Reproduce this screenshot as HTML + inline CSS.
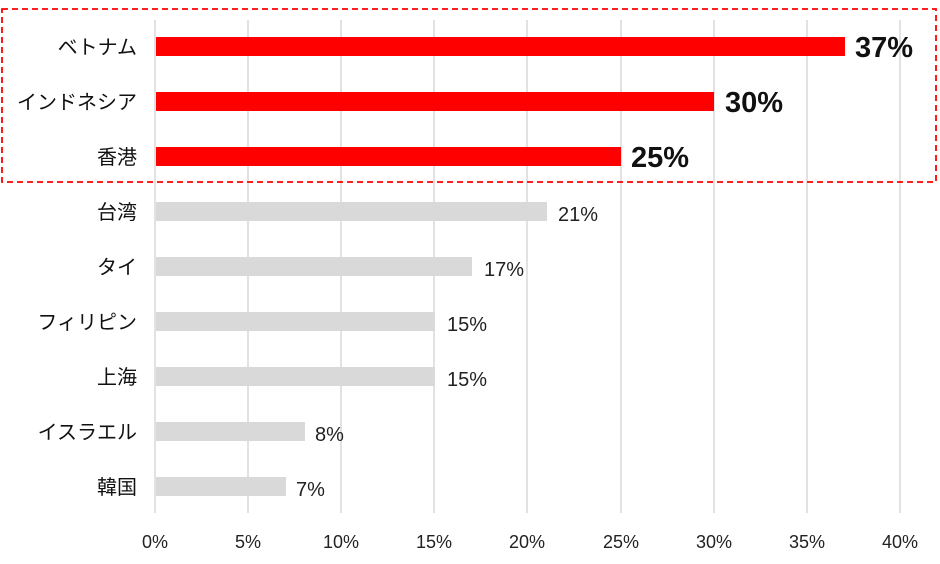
<!DOCTYPE html>
<html><head><meta charset="utf-8"><style>
html,body{margin:0;padding:0;background:#fff;width:940px;height:564px;overflow:hidden}
svg{display:block}
.lab{font-family:"Liberation Sans","Noto Sans CJK JP",sans-serif;font-size:20px;fill:#111}
.tk{font-family:"Liberation Sans",sans-serif;font-size:18px;fill:#222}
.v{font-family:"Liberation Sans",sans-serif;font-size:20px;fill:#222}
.vb{font-family:"Liberation Sans",sans-serif;font-size:29px;font-weight:bold;fill:#111}
</style></head><body>
<svg width="940" height="564" xmlns="http://www.w3.org/2000/svg">
<g stroke="#d9d9d9" stroke-width="1.5">
<line x1="155" y1="20" x2="155" y2="513"/><line x1="248" y1="20" x2="248" y2="513"/>
<line x1="341" y1="20" x2="341" y2="513"/><line x1="434" y1="20" x2="434" y2="513"/>
<line x1="527" y1="20" x2="527" y2="513"/><line x1="621" y1="20" x2="621" y2="513"/>
<line x1="714" y1="20" x2="714" y2="513"/><line x1="807" y1="20" x2="807" y2="513"/>
<line x1="900" y1="20" x2="900" y2="513"/>
</g>
<g fill="#ff0000">
<rect x="156" y="37" width="689" height="19"/>
<rect x="156" y="92" width="558" height="19"/>
<rect x="156" y="147" width="465" height="19"/>
</g>
<g fill="#d9d9d9">
<rect x="156" y="202" width="391" height="19"/>
<rect x="156" y="257" width="316" height="19"/>
<rect x="156" y="312" width="279" height="19"/>
<rect x="156" y="367" width="279" height="19"/>
<rect x="156" y="422" width="149" height="19"/>
<rect x="156" y="477" width="130" height="19"/>
</g>
<rect x="2" y="9" width="934" height="173" fill="none" stroke="#ff0000" stroke-width="1.8" stroke-dasharray="6,4"/>
<g class="lab" text-anchor="end">
<text x="137" y="54">ベトナム</text>
<text x="137" y="109">インドネシア</text>
<text x="137" y="164">香港</text>
<text x="137" y="219">台湾</text>
<text x="137" y="274">タイ</text>
<text x="137" y="329">フィリピン</text>
<text x="137" y="384">上海</text>
<text x="137" y="439">イスラエル</text>
<text x="137" y="494">韓国</text>
</g>
<text class="vb" x="855" y="57">37%</text>
<text class="vb" x="725" y="112">30%</text>
<text class="vb" x="631" y="167">25%</text>
<g class="v">
<text x="558" y="221">21%</text>
<text x="484" y="276">17%</text>
<text x="447" y="331">15%</text>
<text x="447" y="386">15%</text>
<text x="315" y="441">8%</text>
<text x="296" y="496">7%</text>
</g>
<g class="tk" text-anchor="middle">
<text x="155" y="548">0%</text><text x="248" y="548">5%</text>
<text x="341" y="548">10%</text><text x="434" y="548">15%</text>
<text x="527" y="548">20%</text><text x="621" y="548">25%</text>
<text x="714" y="548">30%</text><text x="807" y="548">35%</text>
<text x="900" y="548">40%</text>
</g>
</svg>
</body></html>
